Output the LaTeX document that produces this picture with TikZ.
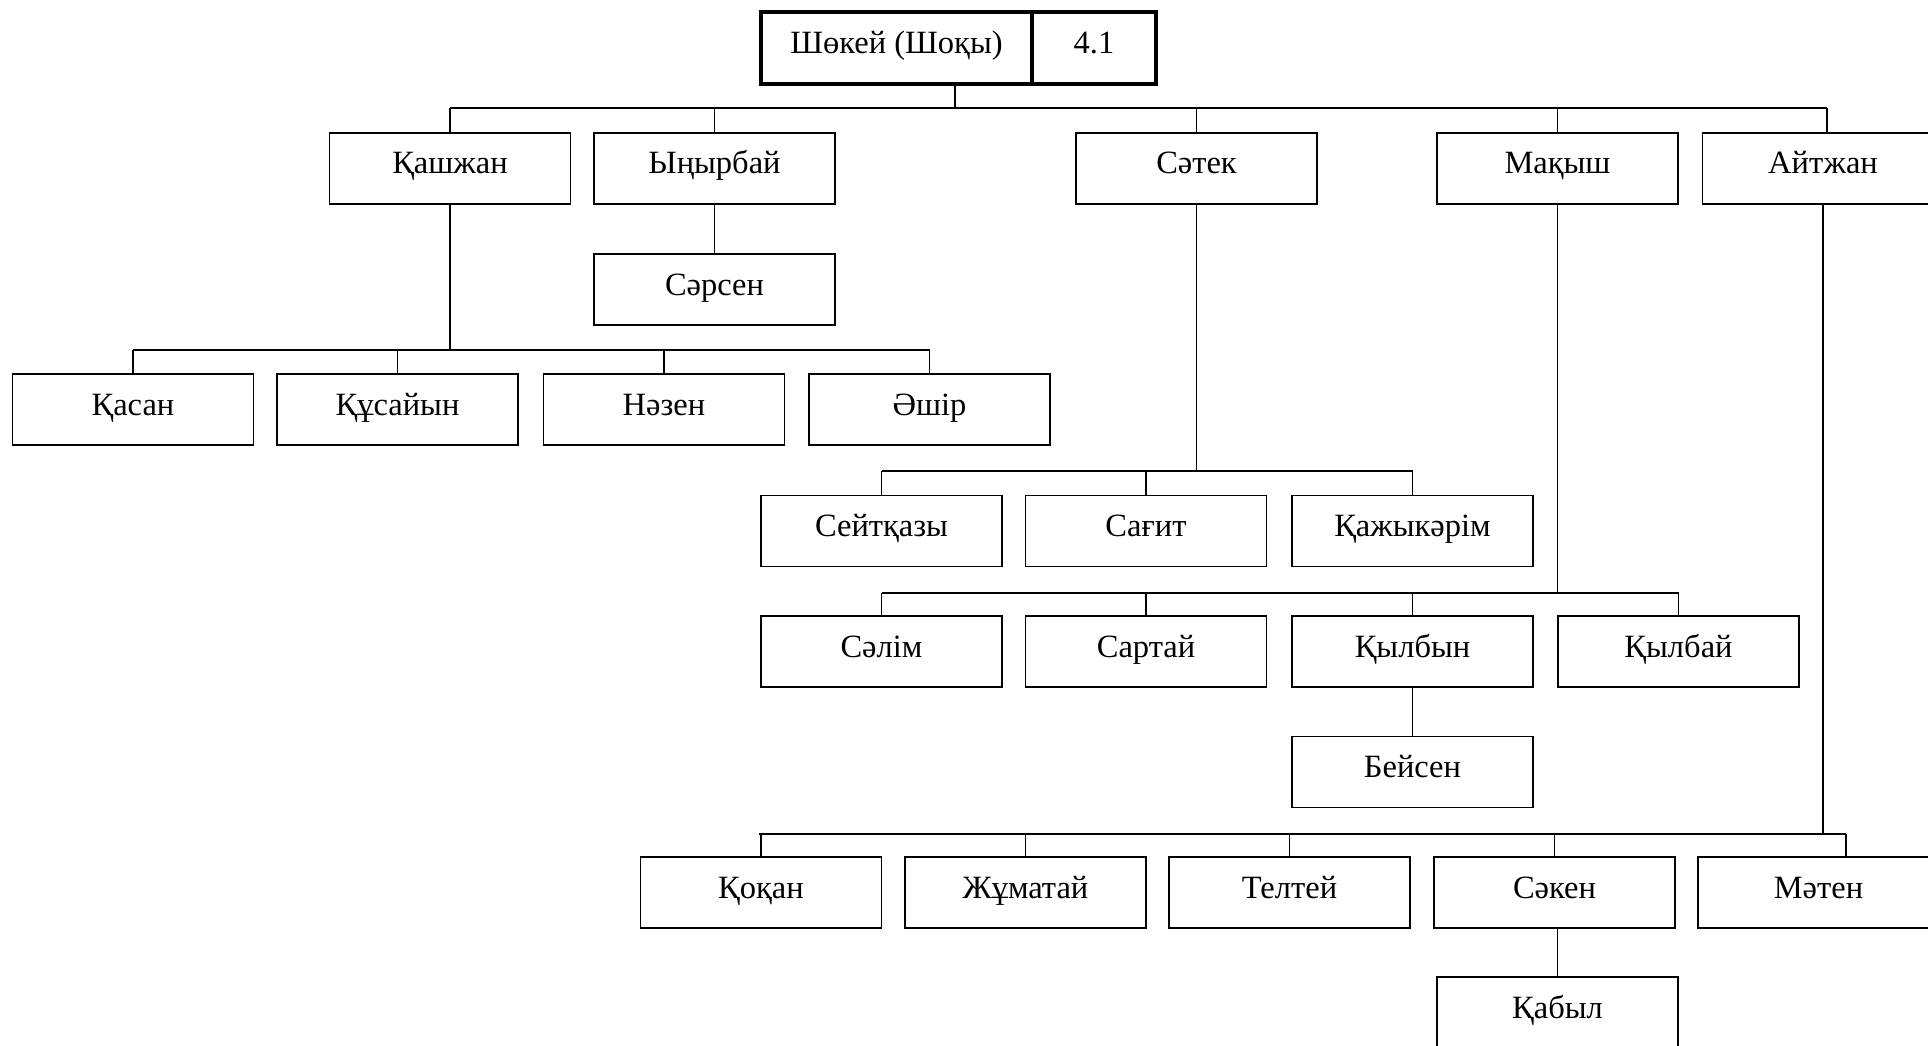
\documentclass[tikz,border=0pt]{standalone}
\usepackage{fontspec}
\setmainfont{Liberation Serif}
\begin{document}
\begin{tikzpicture}[x=1pt,y=-1pt,
  pbox/.style={draw, line width=1.2pt, minimum width=241pt, minimum height=71pt, inner sep=0pt, text height=20pt, text depth=9pt, font=\fontsize{32.5}{36}\selectfont},
  topbox/.style={draw, line width=3.5pt, minimum height=72pt, inner sep=0pt, text height=20pt, text depth=9pt, font=\fontsize{32.5}{36}\selectfont},
  conn/.style={line width=1.4pt},
  bus/.style={line width=2pt}]
\useasboundingbox (0,0) rectangle (1928,1046);
\begin{scope}
\clip (0,0) rectangle (1928,1046);
% top
\node[topbox, minimum width=271pt] (shoky) at (896.5,48) {Шөкей (Шоқы)};
\node[topbox, minimum width=124pt] (num) at (1094,48) {4.1};
% level 1
\node[pbox] (kashzhan) at (450,168.5) {Қашжан};
\node[pbox] (ynyrbai) at (714.5,168.5) {Ыңырбай};
\node[pbox] (satek) at (1196.5,168.5) {Сәтек};
\node[pbox] (makysh) at (1557.5,168.5) {Мақыш};
\node[pbox] (aitzhan) at (1823,168.5) {Айтжан};
\node[pbox] (sarsen) at (714.5,289.5) {Сәрсен};
% Kashzhan children
\node[pbox] (kasan) at (133,409.5) {Қасан};
\node[pbox] (kusaiyn) at (397.5,409.5) {Құсайын};
\node[pbox] (nazen) at (664,409.5) {Нәзен};
\node[pbox] (ashir) at (929.5,409.5) {Әшір};
% Satek children
\node[pbox] (seitkazy) at (881.5,531) {Сейтқазы};
\node[pbox] (sagit) at (1146,531) {Сағит};
\node[pbox] (kazhykarim) at (1412.5,531) {Қажыкәрім};
% Makysh children
\node[pbox] (salim) at (881.5,651.5) {Сәлім};
\node[pbox] (sartai) at (1146,651.5) {Сартай};
\node[pbox] (kylbyn) at (1412.5,651.5) {Қылбын};
\node[pbox] (kylbai) at (1678.5,651.5) {Қылбай};
\node[pbox] (beisen) at (1412.5,772) {Бейсен};
% Aitzhan children
\node[pbox] (kokan) at (761,892.5) {Қоқан};
\node[pbox] (zhumatai) at (1025.5,892.5) {Жұматай};
\node[pbox] (teltei) at (1289.5,892.5) {Телтей};
\node[pbox] (saken) at (1554.5,892.5) {Сәкен};
\node[pbox] (maten) at (1818.5,892.5) {Мәтен};
\node[pbox] (kabyl) at (1557.5,1012.5) {Қабыл};
% bus coordinates
\coordinate (b0) at (0,108);
\coordinate (b1) at (0,350);
\coordinate (b2) at (0,471);
\coordinate (b3) at (0,593);
\coordinate (b4) at (0,834);
% top level
\draw[conn] ([xshift=58.5pt]shoky.south) -- ([xshift=58.5pt]shoky.south |- b0);
\draw[bus] (kashzhan.north |- b0) -- ([xshift=4pt]aitzhan.north |- b0);
\foreach \n in {kashzhan,ynyrbai,satek,makysh}
  \draw[conn] (\n.north) -- (\n.north |- b0);
\draw[conn] ([xshift=4pt]aitzhan.north) -- ([xshift=4pt]aitzhan.north |- b0);
\draw[conn] (ynyrbai.south) -- (sarsen.north);
% Kashzhan
\draw[conn] (kashzhan.south) -- (kashzhan.south |- b1);
\draw[bus] (kasan.north |- b1) -- (ashir.north |- b1);
\foreach \n in {kasan,kusaiyn,nazen,ashir}
  \draw[conn] (\n.north) -- (\n.north |- b1);
% Satek
\draw[conn] (satek.south) -- (satek.south |- b2);
\draw[bus] (seitkazy.north |- b2) -- (kazhykarim.north |- b2);
\foreach \n in {seitkazy,sagit,kazhykarim}
  \draw[conn] (\n.north) -- (\n.north |- b2);
% Makysh
\draw[conn] (makysh.south) -- (makysh.south |- b3);
\draw[bus] (salim.north |- b3) -- (kylbai.north |- b3);
\foreach \n in {salim,sartai,kylbyn,kylbai}
  \draw[conn] (\n.north) -- (\n.north |- b3);
\draw[conn] (kylbyn.south) -- (beisen.north);
% Aitzhan
\draw[conn] (aitzhan.south) -- (aitzhan.south |- b4);
\draw[bus] ([xshift=-2pt]kokan.north |- b4) -- ([xshift=27.5pt]maten.north |- b4);
\foreach \n in {kokan,zhumatai,teltei,saken}
  \draw[conn] (\n.north) -- (\n.north |- b4);
\draw[conn] ([xshift=27.5pt]maten.north) -- ([xshift=27.5pt]maten.north |- b4);
\draw[conn] ([xshift=3pt]saken.south) -- ([xshift=3pt]saken.south |- kabyl.north);
\end{scope}
\end{tikzpicture}
\end{document}
